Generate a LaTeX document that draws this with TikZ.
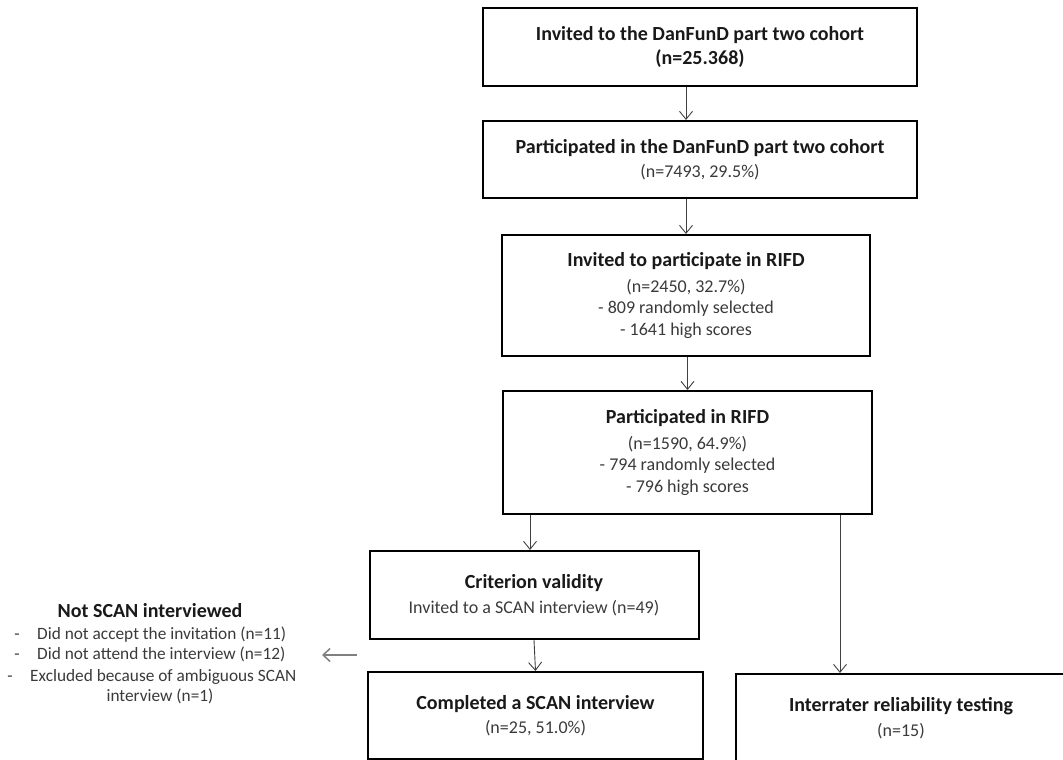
\documentclass[tikz,border=0pt]{standalone}
\usepackage{fontspec}
\setmainfont{Carlito}
\usetikzlibrary{arrows.meta}
\definecolor{txtgray}{HTML}{3A3A3A}
\definecolor{arrgray}{HTML}{404040}
\tikzset{
  box/.style={draw=black, line width=2pt, inner sep=0pt, align=center, font=\fontsize{18}{21.5}\selectfont, text=txtgray},
  arr/.style={draw=arrgray, line width=0.9pt, -{Straight Barb[length=8pt,width=13pt,line width=0.9pt]}},
  side/.style={align=left, font=\fontsize{17.3}{20.5}\selectfont, text=txtgray, inner sep=0pt},
}
\newcommand{\hd}[1]{{\fontsize{20}{21.5}\selectfont\bfseries\color{black!90}#1}}
\begin{document}
\begin{tikzpicture}[x=1pt,y=-1pt]
\useasboundingbox (0,0) rectangle (1063,760);
\clip (0,0) rectangle (1063,760);
\node[box, minimum width=434pt, minimum height=78pt] (b1) at (700,47)
  {\hd{Invited to the DanFunD part two cohort}\\[3pt] \hd{(n=25.368)}};
\node[box, minimum width=434pt, minimum height=77pt] (b2) at (700,159.5)
  {\hd{Participated in the DanFunD part two cohort}\\[3pt] (n=7493, 29.5\%)};
\node[box, minimum width=368pt, minimum height=121pt] (b3) at (686,295.5)
  {\hd{Invited to participate in RIFD}\\[4pt] (n=2450, 32.7\%)\\ - 809 randomly selected\\ - 1641 high scores};
\node[box, minimum width=369pt, minimum height=123pt] (b4) at (687.5,452.5)
  {\hd{Participated in RIFD}\\[4pt] (n=1590, 64.9\%)\\ - 794 randomly selected\\ - 796 high scores};
\node[box, minimum width=329pt, minimum height=88pt] (b5) at (534,595)
  {\hd{Criterion validity}\\[3pt] Invited to a SCAN interview (n=49)};
\node[box, minimum width=335pt, minimum height=87pt] (b6) at (535.5,715.5)
  {\hd{Completed a SCAN interview}\\[3pt] (n=25, 51.0\%)};
\node[box, minimum width=330pt, minimum height=88pt] (b7) at (901,718)
  {\hd{Interrater reliability testing}\\[3pt] (n=15)};
% side text
\node[side, anchor=base] (ns) at (150,617) {\hd{Not SCAN interviewed}};
\node[side, anchor=base west] (n1) at (37,639) {Did not accept the invitation (n=11)};
\node[side, anchor=base west] (n2) at (37,659) {Did not attend the interview (n=12)};
\node[side, anchor=base west] (n3) at (30,681) {Excluded because of ambiguous SCAN};
\node[side, anchor=base] (n4) at (160,701) {interview (n=1)};
\node[side, anchor=base] (d1) at (17,639) {-};
\node[side, anchor=base] (d2) at (17,659) {-};
\node[side, anchor=base] (d3) at (10,681) {-};
% connectors
\draw[arr] (b1.south -| b3.north) -- (b2.north -| b3.north);
\draw[arr] (b2.south -| b3.north) -- (b3.north);
\draw[arr] (b3.south -| b4.north) -- (b4.north);
\draw[arr] ([xshift=-4pt]b4.south -| b5.north) -- ([xshift=-4pt]b5.north);
\draw[arr] (b5.south) -- (b6.north);
\coordinate (rt) at (840,0);
\draw[arr] (b4.south -| rt) -- (b7.north -| rt);
\coordinate (ga) at (357,655);
\coordinate (gb) at (322,655);
\draw[draw=gray, line width=1.5pt, -{Straight Barb[length=7pt,width=13pt,line width=1.5pt]}] (ga) -- (gb);
\end{tikzpicture}
\end{document}
